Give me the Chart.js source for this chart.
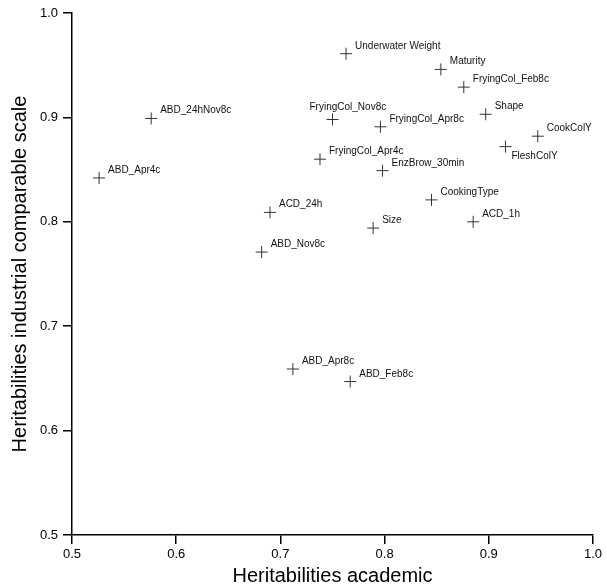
<!DOCTYPE html>
<html lang="en">
<head>
    <meta charset="UTF-8">
    <title>Heritabilities</title>
    <script src="https://cdn.jsdelivr.net/npm/chart.js"></script>
    <style>
        html, body { margin: 0; padding: 0; background: #fff; }
        #wrap { width: 607px; height: 588px; }
    </style>
</head>
<body>
    <div id="wrap"><canvas id="scatter" width="607" height="588"></canvas></div>

    <script>
        const traits = [
            'Underwater Weight', 'Maturity', 'FryingCol_Feb8c', 'Shape', 'CookColY',
            'FleshColY', 'FryingCol_Nov8c', 'FryingCol_Apr8c', 'FryingCol_Apr4c', 'EnzBrow_30min',
            'CookingType', 'ACD_1h', 'Size', 'ACD_24h', 'ABD_Nov8c',
            'ABD_24hNov8c', 'ABD_Apr4c', 'ABD_Apr8c', 'ABD_Feb8c'
        ];
        const academic = [
            0.763, 0.854, 0.876, 0.897, 0.947,
            0.916, 0.750, 0.796, 0.738, 0.798,
            0.845, 0.885, 0.789, 0.690, 0.682,
            0.576, 0.526, 0.712, 0.767
        ];
        const industrial = [
            0.961, 0.946, 0.929, 0.903, 0.882,
            0.872, 0.898, 0.891, 0.860, 0.849,
            0.821, 0.800, 0.794, 0.809, 0.771,
            0.899, 0.842, 0.659, 0.647
        ];
        const tickValues = [0.5, 0.6, 0.7, 0.8, 0.9, 1.0];

        // labels that do not sit up-right of their marker
        const labelPlacement = {
            'FleshColY': { dx: 6, dy: 5, base: 'top' },
            'FryingCol_Nov8c': { dx: -23, dy: -9, base: 'alphabetic' }
        };

        const pointLabels = {
            id: 'pointLabels',
            afterDatasetsDraw(chart) {
                const ctx = chart.ctx;
                const xs = chart.scales.x, ys = chart.scales.y;
                ctx.save();
                ctx.font = '10px "Liberation Sans", Arial, sans-serif';
                ctx.fillStyle = '#111';
                ctx.textAlign = 'left';
                traits.forEach((name, i) => {
                    const px = xs.getPixelForValue(academic[i]);
                    const py = ys.getPixelForValue(industrial[i]);
                    const p = labelPlacement[name] || { dx: 9, dy: -5, base: 'alphabetic' };
                    ctx.textBaseline = p.base;
                    ctx.fillText(name, px + p.dx, py + p.dy);
                });
                ctx.restore();
            }
        };

        const axisFont = { family: '"Liberation Sans", Arial, sans-serif', size: 13 };
        const titleFont = { family: '"Liberation Sans", Arial, sans-serif', size: 20 };

        new Chart(document.getElementById('scatter'), {
            type: 'scatter',
            data: {
                datasets: [{
                    data: academic.map((x, i) => ({ x: x, y: industrial[i] })),
                    pointStyle: 'cross',
                    pointRadius: 6,
                    pointHoverRadius: 6,
                    borderColor: '#333',
                    borderWidth: 1
                }]
            },
            options: {
                responsive: false,
                animation: false,
                layout: { padding: { top: 13, right: 14, left: 0, bottom: 0 } },
                plugins: { legend: { display: false }, tooltip: { enabled: false } },
                scales: {
                    x: {
                        type: 'linear',
                        min: 0.5,
                        max: 1.0,
                        afterBuildTicks: s => { s.ticks = tickValues.map(v => ({ value: v })); },
                        afterFit: s => { s.height = 53; },
                        ticks: {
                            color: '#000',
                            font: axisFont,
                            padding: 3,
                            maxRotation: 0,
                            callback: v => v.toFixed(1)
                        },
                        grid: { drawOnChartArea: false, drawTicks: true, tickLength: 9, color: '#000', lineWidth: 1.5 },
                        border: { display: true, color: '#000', width: 1.5 },
                        title: { display: true, text: 'Heritabilities academic', color: '#000', font: titleFont, padding: 0 }
                    },
                    y: {
                        type: 'linear',
                        min: 0.5,
                        max: 1.0,
                        afterBuildTicks: s => { s.ticks = tickValues.map(v => ({ value: v })); },
                        afterFit: s => { s.width = 72; },
                        ticks: {
                            color: '#000',
                            font: axisFont,
                            padding: 5,
                            callback: v => v.toFixed(1)
                        },
                        grid: { drawOnChartArea: false, drawTicks: true, tickLength: 9, color: '#000', lineWidth: 1.5 },
                        border: { display: true, color: '#000', width: 1.5 },
                        title: { display: true, text: 'Heritabilities industrial comparable scale', color: '#000', font: titleFont, padding: { top: 8, bottom: 0 } }
                    }
                }
            },
            plugins: [pointLabels]
        });
    </script>
</body>
</html>
